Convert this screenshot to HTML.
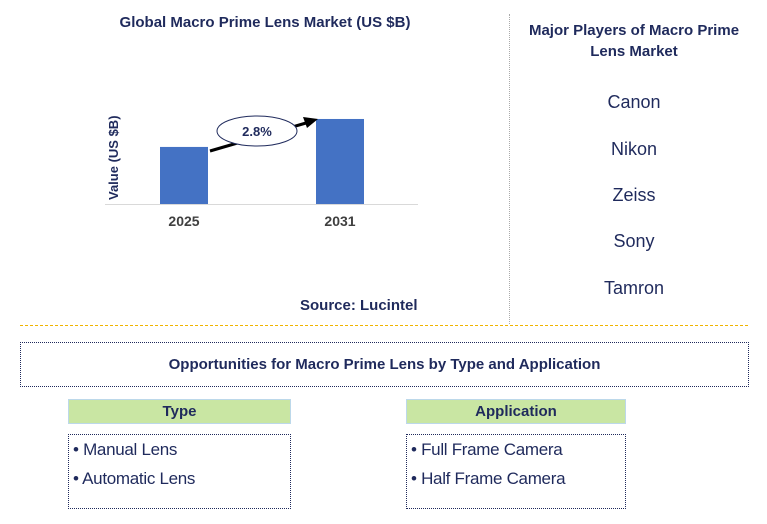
<!DOCTYPE html>
<html><head><meta charset="utf-8"><style>
body{margin:0;width:767px;height:524px;background:#fff;font-family:"Liberation Sans",Arial,sans-serif;position:relative;overflow:hidden}
.a{position:absolute}
.t{color:#1f2a5c;font-weight:bold}
.dot{border:1px dotted #1f2a5c;box-sizing:border-box}
.hdr{background:#c9e6a3;border:1px solid #bcd8ea;box-sizing:border-box;text-align:center;font-weight:bold;color:#1f2a5c;font-size:15px;line-height:24px}
.li{font-size:17px;color:#1f2a5c;position:absolute;left:4px;letter-spacing:-0.3px}
.pl{position:absolute;width:250px;left:509px;text-align:center;font-size:18px;color:#1f2a5c}
</style></head><body>
<div class="a t" style="left:80px;top:14px;width:370px;text-align:center;font-size:15px">Global Macro Prime Lens Market (US $B)</div>
<svg class="a" style="left:0;top:0" width="510" height="320">
<text transform="translate(118,200) rotate(-90)" font-size="13" font-weight="bold" fill="#1f2a5c" font-family="Liberation Sans">Value (US $B)</text>
<line x1="105" y1="204.5" x2="418" y2="204.5" stroke="#d9d9d9" stroke-width="1"/>
<g id="bars"></g>
<line x1="210" y1="151" x2="306" y2="123" stroke="#000" stroke-width="3"/>
<polygon points="318,119 303,117 307,128" fill="#000"/>
<ellipse cx="257" cy="131" rx="40" ry="15" fill="#fff" stroke="#1f2a5c" stroke-width="1"/>
<text x="257" y="136" text-anchor="middle" font-size="13" font-weight="bold" fill="#1f2a5c" font-family="Liberation Sans">2.8%</text>
</svg>
<div class="a t" style="left:300px;top:297px;font-size:15px">Source: Lucintel</div>
<div class="a" style="left:509px;top:14px;height:310px;border-left:1px dotted #aaa"></div>
<div class="a t" style="left:515px;top:20px;width:238px;text-align:center;font-size:15px;line-height:21px">Major Players of Macro Prime Lens Market</div>
<div class="pl" style="top:92px">Canon</div>
<div class="pl" style="top:139px">Nikon</div>
<div class="pl" style="top:185px">Zeiss</div>
<div class="pl" style="top:231px">Sony</div>
<div class="pl" style="top:278px">Tamron</div>
<div class="a" style="left:20px;top:325px;width:728px;height:0;border-top:1px dashed #f0b400"></div>
<div class="a dot t" style="left:20px;top:342px;width:729px;height:45px;text-align:center;line-height:43px;font-size:15px">Opportunities for Macro Prime Lens by Type and Application</div>
<div class="a hdr" style="left:68px;top:399px;width:223px;height:25px">Type</div>
<div class="a dot" style="left:68px;top:434px;width:223px;height:75px">
<div class="li" style="top:5px">• Manual Lens</div><div class="li" style="top:34px">• Automatic Lens</div></div>
<div class="a hdr" style="left:406px;top:399px;width:220px;height:25px">Application</div>
<div class="a dot" style="left:406px;top:434px;width:220px;height:75px">
<div class="li" style="top:5px">• Full Frame Camera</div><div class="li" style="top:34px">• Half Frame Camera</div></div>
<script>
const categories=["2025","2031"];
const values=[1.0,1.49];
const yMax=1.6;
const baseY=204, plotH=91.3;
const xCenters={"2025":184,"2031":340};
function y(v){return baseY-v/yMax*plotH;}
const g=document.getElementById('bars');
const ns="http://www.w3.org/2000/svg";
categories.forEach((c,i)=>{
 const r=document.createElementNS(ns,'rect');
 
 
 r.setAttribute('x',xCenters[c]-24);r.setAttribute('width',48);
 r.setAttribute('y',y(values[i]));r.setAttribute('height',baseY-y(values[i]));
 r.setAttribute('fill','#4472c4');g.appendChild(r);
 const t=document.createElementNS(ns,'text');
 
 
 t.setAttribute('x',xCenters[c]);t.setAttribute('y',226);t.setAttribute('text-anchor','middle');
 t.setAttribute('font-size','14');t.setAttribute('font-weight','bold');t.setAttribute('fill','#404040');
 t.setAttribute('font-family','Liberation Sans');t.textContent=c;g.appendChild(t);
});
</script>
</body></html>
